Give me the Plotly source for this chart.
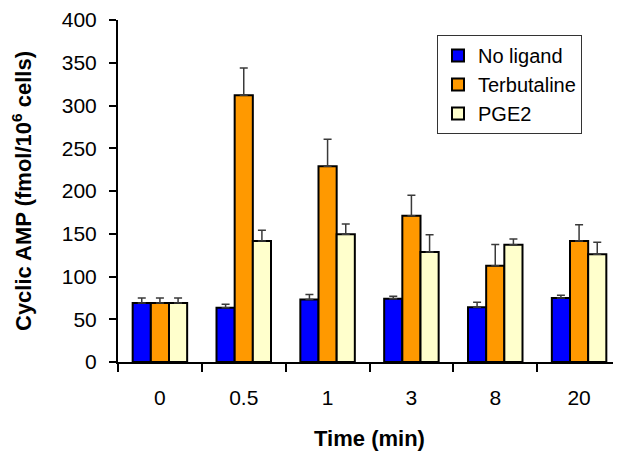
import plotly.graph_objects as go

categories = ["0", "0.5", "1", "3", "8", "20"]
no_ligand = [69, 63.5, 73, 74, 64, 75]
no_ligand_err = [6, 4, 6, 3, 6, 3]
terbutaline = [69, 312, 229, 171, 112.5, 141.5]
terbutaline_err = [6, 32, 31.5, 24, 25, 19]
pge2 = [69, 141.5, 149.5, 128.7, 137, 126]
pge2_err = [6, 12.5, 12, 20, 7, 14]
y_ticks = [0, 50, 100, 150, 200, 250, 300, 350, 400]

series = [
    ("No ligand", no_ligand, no_ligand_err, "#0000FF"),
    ("Terbutaline", terbutaline, terbutaline_err, "#FF9900"),
    ("PGE2", pge2, pge2_err, "#FFFFCC"),
]

FONT = "Liberation Sans, Arial, sans-serif"

# page body has an 8px margin, so figure is sized to fit the 621x453 window
W, H = 613, 445
L, R, T, B = 110, 0, 12, 91

fig = go.Figure()
for name, vals, errs, color in series:
    fig.add_trace(go.Bar(
        name=name, x=categories, y=vals,
        marker=dict(color=color, line=dict(color="black", width=2)),
        error_y=dict(type="data", symmetric=False, array=errs,
                     arrayminus=[0] * len(errs), color="#3a3a3a",
                     thickness=1.5, width=4),
    ))

plot_w = W - L - R
plot_h = H - T - B
leg_left = 429   # in figure px
leg_top = 27

fig.update_layout(
    width=W, height=H,
    margin=dict(l=L, r=R, t=T, b=B, autoexpand=False),
    paper_bgcolor="white", plot_bgcolor="white",
    barmode="group", bargap=0.35, bargroupgap=0,
    font=dict(family=FONT, size=21, color="black"),
    showlegend=True,
    legend=dict(x=(leg_left - L) / plot_w, y=(H - B - leg_top) / plot_h,
                xanchor="left", yanchor="top",
                bordercolor="#333333", borderwidth=1,
                font=dict(size=20), bgcolor="white",
                itemwidth=30),
)

fig.update_xaxes(
    type="category", showline=True, linecolor="black", linewidth=2,
    ticks="outside", tickson="boundaries", ticklen=8, tickwidth=2,
    tickcolor="black", showgrid=False,
    tickfont=dict(size=21), ticklabelstandoff=16,
    title=dict(text="<b>Time (min)</b>", font=dict(size=22), standoff=22),
)
fig.update_yaxes(
    range=[0, 400], tickvals=y_ticks, showline=True, linecolor="black",
    linewidth=2, ticks="outside", ticklen=7, tickwidth=2, tickcolor="black",
    showgrid=False, zeroline=False, tickfont=dict(size=21),
    ticklabelstandoff=8,
    title=dict(text="<b>Cyclic AMP (fmol/10<sup>6</sup> cells)</b>",
               font=dict(size=22), standoff=24),
)

fig.write_html("out.html")
